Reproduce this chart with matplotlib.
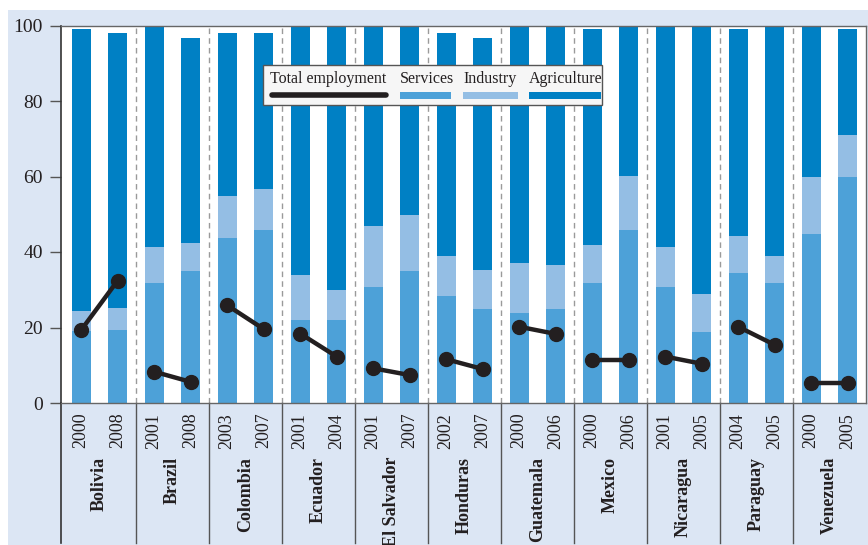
import matplotlib.pyplot as plt
from matplotlib.patches import Rectangle

countries = ["Bolivia", "Brazil", "Colombia", "Ecuador", "El Salvador", "Honduras",
             "Guatemala", "Mexico", "Nicaragua", "Paraguay", "Venezuela"]
years = ["2000", "2008", "2001", "2008", "2003", "2007", "2001", "2004", "2001", "2007",
         "2002", "2007", "2000", "2006", "2000", "2006", "2001", "2005", "2004", "2005",
         "2000", "2005"]

services = [19.1, 19.3, 31.7, 34.9, 43.7, 45.8, 22.0, 22.0, 30.7, 34.9, 28.3,
            24.9, 23.8, 24.9, 31.7, 45.8, 30.7, 18.8, 34.4, 31.7, 44.7, 59.8]
industry = [5.2, 5.9, 9.6, 7.4, 11.1, 10.8, 11.9, 7.9, 16.1, 14.8, 10.6,
            10.3, 13.2, 11.6, 10.1, 14.3, 10.6, 10.0, 9.8, 7.2, 15.3, 11.1]
agriculture = [74.9, 72.9, 58.7, 54.3, 43.3, 41.3, 66.1, 69.9, 53.2, 50.3, 59.2,
               61.4, 63.0, 63.5, 57.4, 39.9, 58.7, 71.2, 55.0, 61.1, 40.0, 28.3]
total_employment = [19.3, 32.4, 8.3, 5.6, 25.9, 19.6, 18.4, 12.3, 9.2, 7.4, 11.6,
                    9.0, 20.2, 18.3, 11.4, 11.4, 12.3, 10.4, 20.2, 15.4, 5.4, 5.4]

c_serv = "#4da1d8"
c_ind = "#94bee4"
c_agri = "#0080c4"
c_bg = "#dce6f4"
c_text = "#231f20"

plt.rcParams["font.family"] = ["Liberation Serif", "DejaVu Serif"]

fig = plt.figure(figsize=(8.68, 5.45), dpi=100)
fig.patches.append(Rectangle((8 / 868, 0), 1, 1 - 10 / 545, transform=fig.transFigure,
                             facecolor=c_bg, edgecolor="none", zorder=-10))

ax = fig.add_axes([61 / 868, 1 - 403 / 545, 805 / 868, 377.5 / 545])
ax.set_facecolor("white")

x = list(range(len(years)))
ind_bottom = [s + i for s, i in zip(services, industry)]
ax.bar(x, services, width=0.52, color=c_serv, zorder=2)
ax.bar(x, industry, bottom=services, width=0.52, color=c_ind, zorder=2)
ax.bar(x, agriculture, bottom=ind_bottom, width=0.52, color=c_agri, zorder=2)

for k in range(len(countries)):
    xs = [2 * k, 2 * k + 1]
    ax.plot(xs, total_employment[2 * k:2 * k + 2], color=c_text, lw=3.2,
            marker="o", markersize=10, zorder=4, solid_capstyle="round")

# separators
for k in range(1, len(countries)):
    ax.axvline(2 * k - 0.5, color="#9a9a9a", lw=1, ls=(0, (4, 3)), zorder=1)
    ax.plot([2 * k - 0.5, 2 * k - 0.5], [0, -0.371], color="#555555", lw=1,
            transform=ax.get_xaxis_transform(), clip_on=False)
ax.plot([0, 0], [0, -0.371], color="#333333", lw=1.2, transform=ax.transAxes,
        clip_on=False)

ax.set_xlim(-0.55, 21.5)
ax.set_ylim(0, 100)
ax.set_yticks([0, 20, 40, 60, 80, 100])
ax.tick_params(axis="y", direction="out", length=8, width=1, color="#555555",
               labelsize=14, labelcolor=c_text, pad=5)
ax.set_xticks([])
for side in ["top", "right", "bottom"]:
    ax.spines[side].set_color("#666666")
    ax.spines[side].set_linewidth(1)
ax.spines["left"].set_color("#333333")
ax.spines["left"].set_linewidth(1.2)

# year and country labels
for i, yr in enumerate(years):
    ax.text(i, -0.026, yr, rotation=90, ha="center", va="top", fontsize=13,
            color=c_text, transform=ax.get_xaxis_transform())
for k, name in enumerate(countries):
    ax.text(2 * k + 0.5, -0.143, name, rotation=90, ha="center", va="top",
            fontsize=13, fontweight="bold", color=c_text,
            transform=ax.get_xaxis_transform(), clip_on=False)

# legend drawn by hand: labels above their keys
ax.add_patch(Rectangle((0.251, 0.789), 0.421, 0.106, transform=ax.transAxes,
                       facecolor="#f6f6f6", edgecolor="#555555", lw=1, zorder=5))
leg_labels = ["Total employment", "Services", "Industry", "Agriculture"]
leg_x = [0.2595, 0.421, 0.4994, 0.5814]
leg_w = [0.1445, 0.0635, 0.0683, 0.0894]
for lab, lx, lw_ in zip(leg_labels, leg_x, leg_w):
    ax.text(lx, 0.857, lab, transform=ax.transAxes, fontsize=11.5, color=c_text,
            va="center", ha="left", zorder=6)
ax.plot([leg_x[0] + 0.003, leg_x[0] + leg_w[0]], [0.815, 0.815], transform=ax.transAxes,
        color=c_text, lw=4, solid_capstyle="round", zorder=6)
for lx, lw_, col in zip(leg_x[1:], leg_w[1:], [c_serv, c_ind, c_agri]):
    ax.add_patch(Rectangle((lx, 0.805), lw_, 0.02, transform=ax.transAxes,
                           facecolor=col, edgecolor="none", zorder=6))

fig.savefig("out.png", dpi=100)
